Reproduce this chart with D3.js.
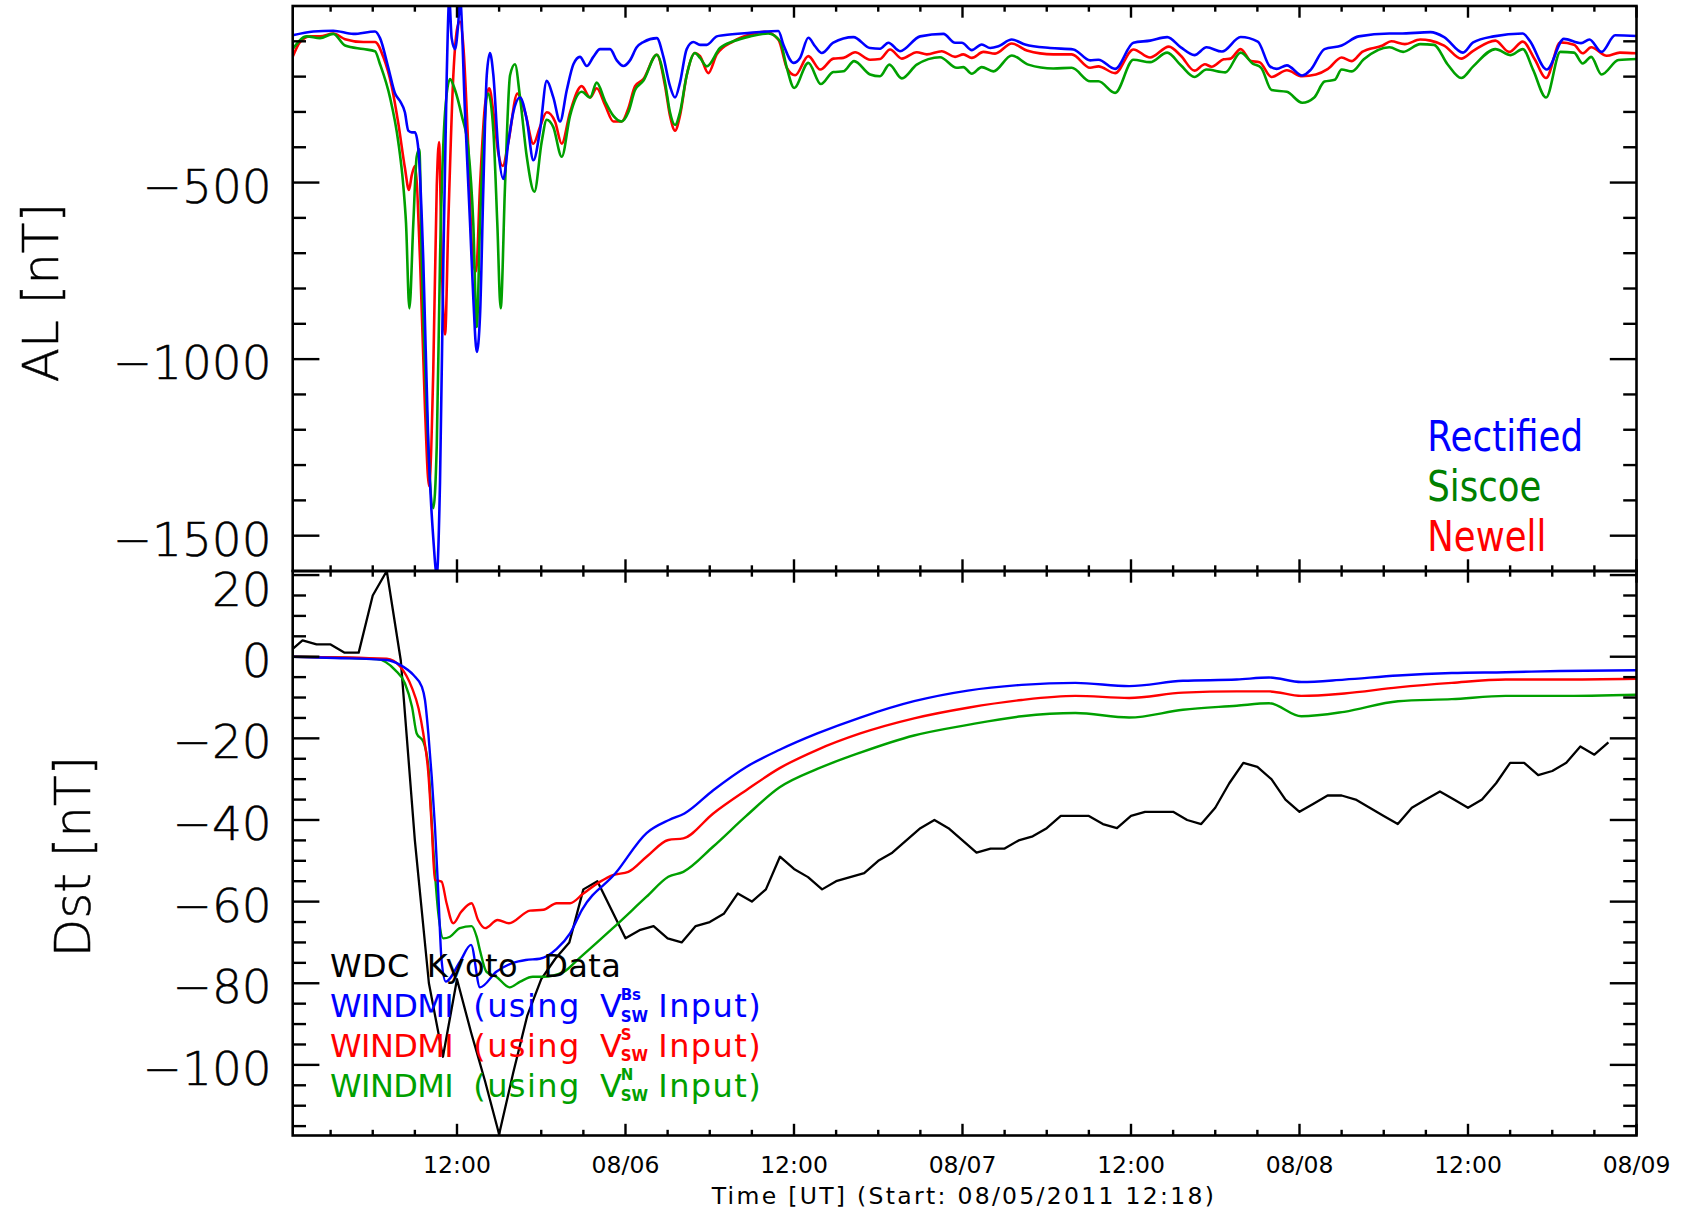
<!DOCTYPE html>
<html>
<head>
<meta charset="utf-8">
<script src="https://cdn.jsdelivr.net/npm/d3@7"></script>
<style>
  html, body { margin: 0; padding: 0; background: #ffffff; }
  svg { display: block; }
  .idl { font-family: "DejaVu Sans ExtraLight", "DejaVu Sans", sans-serif; font-weight: 200; fill: #000; stroke: #000; stroke-width: 0.5; }
  .idlb { font-family: "DejaVu Sans", sans-serif; font-weight: 400; fill: #000; }
  .leg { font-family: "DejaVu Sans", sans-serif; }
</style>
</head>
<body>
<svg id="chart" width="1686" height="1213"></svg>
<script>
// ---------------- time axis (hours since start of plot) ----------------
const timeSpan = [0, 95.7];
const majorTimeTicks = [11.7, 23.7, 35.7, 47.7, 59.7, 71.7, 83.7, 95.7];
const majorTimeLabels = ["12:00", "08/06", "12:00", "08/07", "12:00", "08/08", "12:00", "08/09"];
const minorTimeStep = 3;          // hours
const timeTitle = "Time [UT] (Start: 08/05/2011 12:18)";

// ---------------- AL panel ----------------
const alDomain = [-1600, 0];
const alLabelTicks = [-500, -1000, -1500];
const alLabels = ["\u2212500", "\u22121000", "\u22121500"];
const alMajorStep = 500, alMinorStep = 100;

const rectifiedTime = [0,1.47,2.89,4.32,5.86,6.22,6.81,7.29,7.64,7.99,8.23,8.48,8.71,8.95,9.30,9.66,10.01,10.26,10.49,10.73,10.97,11.15,11.32,11.56,11.79,11.92,12.27,12.63,12.86,13.11,13.34,13.58,13.82,14.05,14.29,14.64,15.0,15.36,15.71,16.19,16.67,17.14,17.61,18.09,18.56,19.04,19.52,19.99,20.46,20.94,21.41,21.89,22.6,23.08,23.55,24.02,24.5,24.97,25.93,26.4,26.87,27.23,27.58,28.06,28.53,29.01,29.49,30.2,30.67,32.57,34.59,34.94,35.66,36.13,36.72,37.2,37.68,38.5,39.93,41.12,41.83,42.42,43.25,44.68,46.34,47.17,47.65,48.36,49.07,49.67,50.26,51.21,52.16,53.94,55.6,56.79,57.38,58.57,59.87,61.06,62.28,63.25,64.22,65.08,66.18,67.51,68.73,69.59,70.07,70.8,71.89,72.51,73.48,74.7,75.91,78.1,78.84,81.03,82.0,83.34,84.07,85.53,87.6,88.09,89.31,90.53,91.75,92.35,93.21,94.18,95.76];
const rectifiedAL = [-83,-72,-70,-79,-72,-91,-175,-248,-269,-301,-353,-358,-358,-406,-720,-1244,-1506,-1610,-1349,-720,-196,20,-91,-122,-49,20,-301,-615,-825,-980,-877,-510,-196,-133,-196,-406,-490,-385,-301,-259,-322,-437,-353,-212,-259,-327,-238,-165,-144,-170,-144,-122,-122,-154,-170,-154,-117,-102,-91,-144,-227,-259,-217,-122,-102,-110,-110,-86,-83,-76,-71,-109,-161,-147,-90,-114,-133,-104,-88,-119,-121,-104,-128,-86,-79,-104,-104,-125,-109,-119,-114,-95,-109,-119,-123,-154,-152,-178,-104,-98,-88,-117,-139,-117,-129,-88,-101,-171,-178,-168,-197,-180,-122,-112,-86,-78,-78,-74,-88,-132,-103,-86,-78,-98,-180,-93,-105,-95,-130,-83,-85];

const newellTime = [0,0.52,1.23,1.94,2.89,3.73,5.03,5.86,6.45,7.05,7.52,7.99,8.28,8.48,8.71,9.07,9.42,9.71,10.01,10.26,10.42,10.61,10.85,11.08,11.44,11.73,11.92,12.15,12.51,12.82,13.06,13.34,13.7,14.0,14.29,14.64,14.96,15.36,16.0,16.55,17.14,17.61,18.09,18.68,19.16,19.75,20.58,21.18,21.65,22.24,22.84,23.43,23.9,24.38,24.97,25.93,26.52,26.87,27.23,27.58,28.06,28.65,29.01,29.6,30.2,31.38,32.57,33.64,34.59,35.19,35.78,36.72,37.57,38.5,39.22,40.05,41.12,41.83,42.54,43.38,44.44,45.16,46.22,47.17,47.76,48.36,49.19,50.02,51.21,52.28,54.17,55.48,56.79,57.38,58.57,59.87,61.06,62.4,63.25,64.22,64.96,65.44,66.3,66.78,67.51,68.25,68.85,69.71,70.8,71.89,72.87,73.73,74.7,75.43,76.16,77.62,78.23,79.2,80.3,81.03,82.0,83.22,84.07,85.65,86.63,87.6,88.45,89.26,90.28,91.25,91.87,92.47,93.58,94.51,95.76];
const newellAL = [-144,-102,-86,-86,-78,-94,-102,-102,-144,-227,-332,-458,-521,-479,-453,-720,-1139,-1359,-1034,-510,-385,-720,-930,-615,-196,-60,-44,-112,-406,-720,-751,-510,-280,-233,-301,-416,-453,-385,-248,-301,-390,-343,-301,-327,-390,-301,-227,-259,-233,-280,-327,-327,-290,-227,-207,-138,-227,-311,-353,-311,-196,-133,-142,-190,-137,-100,-81,-73,-95,-175,-196,-142,-180,-149,-147,-131,-152,-150,-123,-149,-131,-137,-128,-144,-137,-147,-130,-135,-106,-126,-137,-137,-175,-171,-190,-123,-146,-115,-141,-183,-165,-172,-151,-149,-122,-156,-159,-201,-182,-199,-194,-178,-146,-156,-130,-112,-100,-108,-95,-98,-112,-149,-127,-98,-130,-101,-151,-204,-103,-110,-134,-117,-141,-132,-134];

const siscoeTime = [0,1.0,1.94,2.89,3.73,5.03,5.86,6.22,6.93,7.52,7.88,8.07,8.31,8.59,8.83,9.02,9.19,9.54,10.01,10.26,10.49,10.85,11.2,11.56,12.04,12.51,12.86,13.11,13.34,13.63,13.93,14.29,14.57,14.81,15.12,15.48,15.83,16.19,16.67,17.21,17.73,18.09,18.56,19.16,19.75,20.58,21.18,21.65,22.24,22.84,23.43,23.9,24.38,24.97,25.93,26.52,26.87,27.23,27.58,28.06,28.65,29.01,29.49,30.43,31.38,32.57,33.87,34.71,35.19,35.71,36.72,37.61,38.5,39.22,39.98,41.12,41.83,42.49,43.38,44.44,46.1,47.29,47.76,48.36,49.07,49.9,51.21,52.39,54.17,55.48,56.79,57.38,58.57,59.87,61.06,62.28,63.25,64.22,65.08,66.42,67.51,68.37,68.97,69.71,70.8,71.89,72.75,73.48,74.21,74.7,75.43,76.28,78.1,79.08,80.3,81.28,82.24,83.22,84.07,85.65,86.75,87.6,88.33,89.26,90.28,91.25,91.87,92.47,93.21,94.42,95.76];
const siscoeAL = [-122,-86,-91,-79,-112,-122,-128,-165,-259,-385,-510,-615,-856,-615,-427,-406,-720,-1139,-1422,-1244,-720,-301,-207,-238,-311,-406,-615,-909,-615,-353,-248,-353,-615,-856,-510,-196,-165,-259,-427,-526,-385,-322,-343,-427,-311,-243,-259,-217,-269,-311,-327,-301,-238,-212,-138,-217,-301,-337,-301,-196,-133,-147,-171,-119,-100,-86,-78,-100,-175,-232,-161,-221,-187,-185,-156,-194,-199,-166,-205,-166,-145,-175,-173,-192,-173,-185,-140,-166,-177,-175,-213,-213,-246,-152,-159,-132,-168,-201,-180,-188,-132,-163,-175,-238,-243,-274,-259,-214,-209,-180,-185,-151,-117,-130,-108,-110,-165,-204,-171,-122,-139,-122,-180,-259,-130,-132,-163,-144,-194,-153,-150];

// ---------------- Dst panel ----------------
const dstDomain = [-117.3, 21];
const dstLabelTicks = [20, 0, -20, -40, -60, -80, -100];
const dstLabels = ["20", "0", "\u221220", "\u221240", "\u221260", "\u221280", "\u2212100"];
const dstMajorStep = 20, dstMinorStep = 5;

// WDC Kyoto hourly Dst, first sample at t = -0.3 h
const kyotoStart = -0.3;
const kyotoDst = [1,4,3,3,1,1,15,21,-1,-45,-80,-98,-79,-92,-104,-117,-102,-88,-79,-74,-70,-57,-55,-62,-69,-67,-66,-69,-70,-66,-65,-63,-58,-60,-57,-49,-52,-54,-57,-55,-54,-53,-50,-48,-45,-42,-40,-42,-45,-48,-47,-47,-45,-44,-42,-39,-39,-39,-41,-42,-39,-38,-38,-38,-40,-41,-37,-31,-26,-27,-30,-35,-38,-36,-34,-34,-35,-37,-39,-41,-37,-35,-33,-35,-37,-35,-31,-26,-26,-29,-28,-26,-22,-24,-21];

const windmiBsTime = [0,3,6.7,7.65,8.6,9.2,9.42,9.66,9.9,10.13,10.37,10.6,10.9,11.9,12.7,13.34,14.5,15.7,16.6,17.6,18.8,19.75,20.6,23.0,25.2,26.8,27.9,29.95,32.3,34.68,37.36,40.42,44.25,48.08,51.91,55.74,59.57,63.4,67.23,69.53,71.83,74.89,78.72,82.55,86.38,90.21,95.7];
const windmiBsDst = [0,-0.3,-0.8,-2,-4.5,-7.4,-10.6,-18.8,-29.4,-41.6,-58,-74.3,-79.6,-74.8,-70.6,-81,-77.2,-75,-74.3,-74,-71.6,-67.8,-62,-53,-43.2,-40,-38.4,-32.7,-27,-22.8,-18.8,-14.9,-10.9,-8.3,-6.9,-6.4,-7.2,-5.9,-5.6,-5.1,-6.2,-5.6,-4.6,-4.0,-3.8,-3.5,-3.3];

const windmiSTime = [0,6.7,7.65,8.5,8.96,9.3,9.66,9.9,10.13,10.6,10.96,11.43,12.0,12.74,13.2,13.7,14.6,15.4,16.9,17.85,18.8,19.75,20.7,21.9,22.8,23.9,25.2,26.75,27.82,29.95,32.3,34.68,37.36,40.42,44.25,48.08,51.91,55.74,59.57,63.4,67.23,69.53,71.83,74.89,78.72,82.55,86.38,90.21,95.7];
const windmiSDst = [0,-0.5,-2.4,-7.7,-12.6,-18.8,-28.6,-41.6,-54.7,-55.1,-60.4,-65.3,-62.5,-60.4,-64.5,-66.5,-64.5,-65.3,-62.2,-62,-60.4,-60.4,-58,-55.1,-53.5,-52.7,-49,-44.9,-44.5,-38.4,-32.7,-27.3,-22.8,-18.8,-15.1,-12.5,-10.6,-9.6,-10.1,-8.8,-8.5,-8.5,-9.6,-9.0,-7.5,-6.4,-5.6,-5.6,-5.4];

const windmiNTime = [0,6.0,7.3,7.99,8.5,8.83,9.3,9.66,10.0,10.37,10.72,11.2,11.9,12.74,13.1,13.34,13.8,14.5,15.45,16.2,17.1,17.85,19.3,20.4,22.8,25.2,26.75,27.82,29.95,32.3,34.68,37.36,40.42,44.25,48.08,51.91,55.74,59.57,63.4,67.23,69.53,71.83,74.89,78.72,82.55,86.38,90.21,95.7];
const windmiNDst = [0,-0.6,-3.3,-6.5,-12.3,-18.8,-20.8,-26.9,-46.5,-62.9,-69,-68.6,-66.5,-66,-68.6,-72,-77.2,-78.4,-81,-79.6,-78.4,-78.4,-77.2,-73.9,-66.5,-58.8,-53.9,-52.7,-46.5,-39,-32,-27.5,-23.5,-19.3,-16.7,-14.6,-13.8,-14.9,-13,-12,-11.4,-14.6,-13.5,-10.9,-10.4,-9.6,-9.6,-9.3];

// ---------------- colours ----------------
const blue = "#0000ff", red = "#ff0000", green = "#00a000", legendGreen = "#008000";

// ---------------- layout ----------------
const L = 292.7, R = 1636.5, T = 6, MID = 571, B = 1135.5;
const svg = d3.select("#chart");

const x = d3.scaleLinear().domain(timeSpan).range([L, R]);
const yAL = d3.scaleLinear().domain(alDomain).range([MID, T]);
const yDst = d3.scaleLinear().domain(dstDomain).range([B, MID]);

const defs = svg.append("defs");
defs.append("clipPath").attr("id", "clipAL").append("rect")
  .attr("x", L).attr("y", T).attr("width", R - L).attr("height", MID - T);
defs.append("clipPath").attr("id", "clipDst").append("rect")
  .attr("x", L).attr("y", MID).attr("width", R - L).attr("height", B - MID);

function zip(ts, vs) { return ts.map((t, i) => [t, vs[i]]); }

// ----- AL curves -----
const alLine = d3.line().x(d => x(d[0])).y(d => yAL(d[1])).curve(d3.curveMonotoneX);
const gAL = svg.append("g").attr("clip-path", "url(#clipAL)");
[[newellTime, newellAL, red], [siscoeTime, siscoeAL, green], [rectifiedTime, rectifiedAL, blue]]
  .forEach(([ts, vs, c]) => {
    gAL.append("path").datum(zip(ts, vs)).attr("d", alLine)
      .attr("fill", "none").attr("stroke", c).attr("stroke-width", 2.6)
      .attr("stroke-linejoin", "round");
  });

// ----- Dst curves -----
const dstSmooth = d3.line().x(d => x(d[0])).y(d => yDst(d[1])).curve(d3.curveMonotoneX);
const dstLinear = d3.line().x(d => x(d[0])).y(d => yDst(d[1]));
const gDst = svg.append("g").attr("clip-path", "url(#clipDst)");
const kyoto = kyotoDst.map((v, i) => [kyotoStart + i, v]);
gDst.append("path").datum(kyoto).attr("d", dstLinear)
  .attr("fill", "none").attr("stroke", "#000").attr("stroke-width", 2.3).attr("stroke-linejoin", "round");
[[windmiNTime, windmiNDst, green], [windmiSTime, windmiSDst, red], [windmiBsTime, windmiBsDst, blue]]
  .forEach(([ts, vs, c]) => {
    gDst.append("path").datum(zip(ts, vs)).attr("d", dstSmooth)
      .attr("fill", "none").attr("stroke", c).attr("stroke-width", 2.4);
  });

// ----- frames -----
const frame = svg.append("g").attr("fill", "none").attr("stroke", "#000").attr("stroke-width", 2.6);
frame.append("rect").attr("x", L).attr("y", T).attr("width", R - L).attr("height", MID - T);
frame.append("rect").attr("x", L).attr("y", MID).attr("width", R - L).attr("height", B - MID);

// ----- ticks -----
const ticks = svg.append("g").attr("stroke", "#000").attr("stroke-width", 2.4);
function hTick(yv, len) {
  ticks.append("line").attr("x1", L).attr("x2", L + len).attr("y1", yv).attr("y2", yv);
  ticks.append("line").attr("x1", R).attr("x2", R - len).attr("y1", yv).attr("y2", yv);
}
function vTicks(top, bottom) {
  const minor = d3.range(majorTimeTicks[0] - 3 * minorTimeStep, timeSpan[1] + 0.01, minorTimeStep)
    .filter(t => t > timeSpan[0] && t <= timeSpan[1]);
  minor.forEach(t => {
    const isMajor = majorTimeTicks.some(m => Math.abs(m - t) < 0.01);
    const len = isMajor ? 11.7 : 5.7;
    const xv = x(t);
    ticks.append("line").attr("x1", xv).attr("x2", xv).attr("y1", top).attr("y2", top + len);
    ticks.append("line").attr("x1", xv).attr("x2", xv).attr("y1", bottom).attr("y2", bottom - len);
  });
}
vTicks(T, MID);
vTicks(MID, B);

d3.range(alDomain[0], alDomain[1] + 1, alMinorStep).forEach(v => {
  if (v <= alDomain[0] || v >= alDomain[1]) return;
  hTick(yAL(v), v % alMajorStep === 0 ? 26.7 : 13.3);
});
d3.range(-115, dstDomain[1] + 0.01, dstMinorStep).forEach(v => {
  hTick(yDst(v), v % dstMajorStep === 0 ? 26.7 : 13.3);
});

// ----- tick labels -----
const labelRight = 271.7;
alLabelTicks.forEach((v, i) => {
  svg.append("text").attr("class", "idl").attr("x", labelRight).attr("y", yAL(v) + 20)
    .attr("text-anchor", "end").attr("font-size", 47).text(alLabels[i]);
});
dstLabelTicks.forEach((v, i) => {
  let yc = yDst(v) + 3;
  if (yc - 17.5 < MID) yc = MID + 18;     // keep top label inside its panel
  svg.append("text").attr("class", "idl").attr("x", labelRight).attr("y", yc + 17)
    .attr("text-anchor", "end").attr("font-size", 47).text(dstLabels[i]);
});
majorTimeTicks.forEach((t, i) => {
  svg.append("text").attr("class", "idlb").attr("x", x(t)).attr("y", 1172.5)
    .attr("text-anchor", "middle").attr("font-size", 23.5).text(majorTimeLabels[i]);
});
svg.append("text").attr("class", "idlb").attr("x", 964).attr("y", 1204)
  .attr("text-anchor", "middle").attr("font-size", 23.5).attr("letter-spacing", 2.3).text(timeTitle);

// ----- axis titles -----
svg.append("text").attr("class", "idl").attr("font-size", 50).attr("text-anchor", "middle")
  .attr("transform", "translate(58.3,292.7) rotate(-90)").text("AL [nT]");
svg.append("text").attr("class", "idl").attr("font-size", 50).attr("text-anchor", "middle")
  .attr("transform", "translate(90,856.6) rotate(-90)").text("Dst [nT]");

// ----- AL legend -----
const alLegend = [["Rectified", blue, 451, 156], ["Siscoe", legendGreen, 500.5, 114], ["Newell", red, 551, 119]];
alLegend.forEach(([txt, c, yb, w]) => {
  svg.append("text").attr("class", "leg").attr("x", 1427.3).attr("y", yb)
    .attr("font-size", 42).attr("fill", c)
    .attr("textLength", w).attr("lengthAdjust", "spacingAndGlyphs").text(txt);
});

// ----- Dst legend -----
const dstLegendRows = [
  { color: "#000000", words: [["WDC", 330], ["Kyoto", 426.7], ["Data", 543.3]], base: 977.3 },
  { color: blue,  sup: "Bs", base: 1017.3 },
  { color: red,   sup: "S",  base: 1056.7 },
  { color: green, sup: "N",  base: 1096.7 }
];
dstLegendRows.forEach(row => {
  const t = svg.append("text").attr("class", "idlb").attr("font-size", 32).attr("y", row.base)
    .style("fill", row.color);
  if (row.words) {
    row.words.forEach(([w, xp]) => t.append("tspan").attr("x", xp).attr("y", row.base)
      .attr("letter-spacing", 0.4).text(w));
    return;
  }
  t.append("tspan").attr("x", 330).attr("y", row.base).attr("letter-spacing", -0.6).text("WINDMI");
  t.append("tspan").attr("x", 473.3).attr("y", row.base).attr("letter-spacing", 1.4).text("(using");
  t.append("tspan").attr("x", 600).attr("y", row.base).text("V");
  t.append("tspan").attr("x", 620.7).attr("y", row.base - 17).attr("font-size", 15)
    .attr("font-weight", 700).text(row.sup);
  t.append("tspan").attr("x", 620.7).attr("y", row.base + 4.5).attr("font-size", 15)
    .attr("font-weight", 700).text("SW");
  t.append("tspan").attr("x", 658.3).attr("y", row.base).attr("letter-spacing", 1.4).text("Input)");
});
</script>
</body>
</html>
